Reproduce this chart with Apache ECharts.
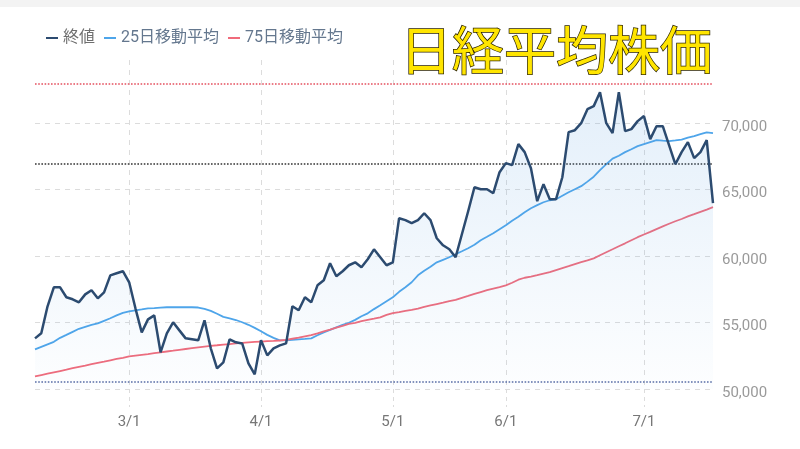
<!DOCTYPE html>
<html><head><meta charset="utf-8">
<script src="https://cdn.jsdelivr.net/npm/echarts@6/dist/echarts.min.js"></script>
<style>html,body{margin:0;padding:0;background:#fff}#c{width:800px;height:449px}</style>
</head><body><div id="c"></div>
<script>
// trading days per month (2026)
const febDays = [5,6,9,10,12,13,16,17,18,19,20,24,25,26,27];
const marDays = [2,3,4,5,6,9,10,11,12,13,16,17,18,19,23,24,25,26,27,30,31];
const aprDays = [1,2,3,6,7,8,9,10,13,14,15,16,17,20,21,22,23,24,27,28,30];
const mayDays = [1,7,8,11,12,13,14,15,18,19,20,21,22,25,26,27,28,29];
const junDays = [1,2,3,4,5,8,9,10,11,12,15,16,17,18,19,22,23,24,25,26,29,30];
const julDays = [1,2,3,6,7,8,9,10,13,14,15,16];

const closeValues = [
53810,54190,56220,57650,57650,56900,56750,56520,57120,57430,
56820,57270,58550,58710,58860,58030,56070,54260,55240,55540,
52760,54190,55020,54410,53810,53740,53660,55170,53060,51550,
52000,53740,53510,53430,51930,51100,53660,52530,53060,53280,
53430,56220,55920,56900,56520,57800,58180,59460,58480,58860,
59310,59530,59160,59760,60510,59910,59310,59530,62850,62700,
62470,62700,63220,62700,61340,60810,60510,59910,61640,63370,
65180,65030,65030,64730,66310,66990,66840,68420,67820,66610,
64130,65410,64280,64280,65930,69320,69470,70000,71050,71280,
72330,70000,69250,72330,69400,69550,70150,70530,68800,69770,
69770,68340,66910,67820,68570,67370,67820,68720,63980];

const ma25Values = [
52980,53170,53360,53550,53850,54070,54300,54530,54680,54830,
54940,55130,55320,55540,55730,55840,55920,55990,56070,56090,
56120,56150,56150,56150,56150,56150,56130,56030,55880,55660,
55430,55320,55190,55020,54830,54600,54340,54070,53850,53660,
53660,53700,53740,53770,53810,54040,54260,54450,54640,54830,
54980,55200,55470,55690,56010,56300,56600,56900,57310,57650,
58030,58550,58890,59190,59530,59720,59910,60140,60360,60590,
60850,61190,61450,61720,62020,62320,62660,62960,63300,63600,
63830,64050,64200,64280,64540,64800,65030,65260,65600,65970,
66460,66910,67330,67550,67820,68040,68270,68420,68570,68720,
68680,68650,68700,68760,68910,69020,69170,69300,69250];

const ma75Values = [
50950,51050,51150,51250,51350,51450,51570,51670,51760,51870,
51970,52060,52160,52260,52350,52450,52510,52570,52630,52700,
52760,52820,52880,52950,53010,53070,53130,53190,53250,53290,
53340,53380,53430,53470,53510,53540,53570,53600,53620,53650,
53690,53780,53860,53960,54060,54190,54340,54470,54620,54750,
54900,54980,55100,55200,55290,55390,55570,55710,55780,55870,
55950,56040,56180,56290,56390,56490,56610,56700,56860,57000,
57150,57290,57430,57550,57670,57800,57990,58220,58370,58450,
58560,58680,58800,58950,59100,59240,59390,59540,59680,59830,
60060,60290,60510,60740,60960,61190,61420,61620,61820,62030,
62230,62430,62620,62790,62980,63150,63330,63500,63680];

const refHigh = 72930, refMid = 66920, refLow = 50560;
const yMin = 50000, yMax = 74750, yStep = 5000;

const months = [[2,febDays],[3,marDays],[4,aprDays],[5,mayDays],[6,junDays],[7,julDays]];
const categories = [];
const monthStart = new Set();
months.forEach(([m, days], k) => {
  days.forEach((d, j) => {
    if (j === 0 && k > 0) monthStart.add(categories.length);
    categories.push(m + '/' + d);
  });
});
const isStart = (idx) => monthStart.has(idx);

const FONT = 'Roboto, "Noto Sans CJK JP", sans-serif';
const chart = echarts.init(document.getElementById('c'));
chart.setOption({
  animation: false,
  backgroundColor: '#fff',
  graphic: [{type:'rect', shape:{x:0,y:0,width:800,height:7}, style:{fill:'#f3f3f3'}, z:-10}],
  title: {
    text: '日経平均株価', left: 395, top: 19,
    textStyle: {color:'#FFE500', fontSize:52, fontWeight:'normal', fontFamily:'"Noto Sans CJK JP", sans-serif',
      textBorderColor:'#2a2200', textBorderWidth:1.5, textShadowColor:'rgba(0,0,0,0.85)',
      textShadowOffsetX:2, textShadowOffsetY:2, textShadowBlur:0}
  },
  legend: {
    left: 41, top: 25, icon: 'rect', itemWidth: 12, itemHeight: 2, itemGap: 9,
    textStyle: {color:'#64778e', fontSize:16, fontFamily: FONT},
    data: [{name:'終値', textStyle:{color:'#6e6e6e'}}, '25日移動平均', '75日移動平均']
  },
  grid: {left: 35, right: 87, top: 60, bottom: 60},
  xAxis: {
    type: 'category', data: categories, boundaryGap: false,
    axisLine: {show: false},
    axisTick: {show: true, interval: isStart, length: 18, lineStyle: {color:'#dcdcdc', type:[4,4]}},
    axisLabel: {interval: isStart, formatter: (v) => v.split('/')[0] + '/1', color:'#777', fontSize:15, margin:26, fontFamily: FONT},
    splitLine: {show: true, interval: isStart, lineStyle: {color:'#dcdcdc', type:[5,5]}}
  },
  yAxis: {
    type: 'value', position: 'right', min: yMin, max: yMax, interval: yStep,
    axisLine: {show:false}, axisTick: {show:false},
    axisLabel: {color:'#9a9a9a', fontSize:15, margin:9, fontFamily: FONT, showMaxLabel:false,
      verticalAlign: 'top', lineHeight: 8, formatter: (v) => v.toLocaleString('en-US')},
    splitLine: {show:true, showMaxLine:false, lineStyle:{color:'#dcdcdc', type:[5,5]}}
  },
  series: [
    {
      name: '終値', type: 'line', data: closeValues, symbol: 'none', z: 5,
      itemStyle: {color:'#2c4b70'},
      lineStyle: {color:'#2c4b70', width:2.5},
      areaStyle: {color: new echarts.graphic.LinearGradient(0,0,0,1,[
        {offset:0, color:'rgba(90,160,225,0.24)'},
        {offset:1, color:'rgba(90,160,225,0.02)'}])},
      markLine: {
        silent: true, symbol: ['none','none'], label: {show:false},
        lineStyle: {type:'dotted', width:1.6},
        data: [
          {yAxis: refHigh, lineStyle:{color:'#e5505f', type:'dotted', width:1.6}},
          {yAxis: refMid, lineStyle:{color:'#333333', type:'dotted', width:1.6}},
          {yAxis: refLow, lineStyle:{color:'#5a6ea6', type:'dotted', width:1.6}}
        ]
      }
    },
    {
      name: '25日移動平均', type: 'line', data: ma25Values, symbol: 'none', z: 4,
      itemStyle: {color:'#4ea5ea'}, lineStyle: {color:'#4ea5ea', width:1.8}
    },
    {
      name: '75日移動平均', type: 'line', data: ma75Values, symbol: 'none', z: 4,
      itemStyle: {color:'#f06b7b'}, lineStyle: {color:'#f06b7b', width:1.8}
    }
  ]
});
</script></body></html>
